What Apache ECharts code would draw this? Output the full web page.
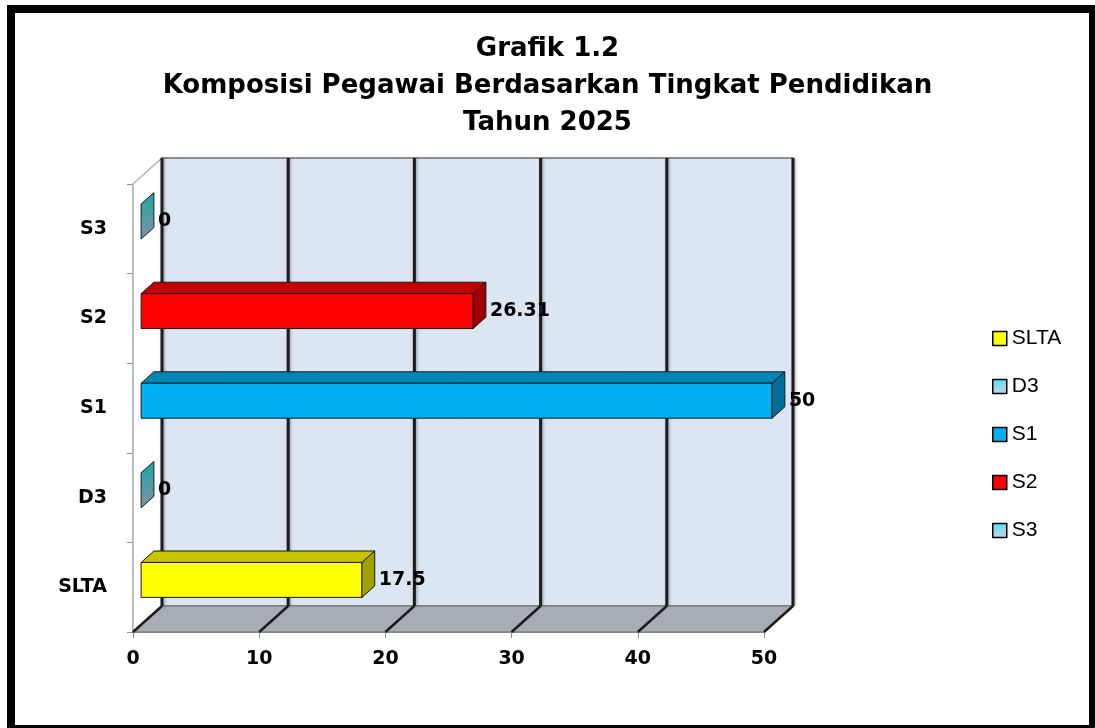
<!DOCTYPE html>
<html>
<head>
<meta charset="utf-8">
<script src="https://cdn.jsdelivr.net/npm/echarts@6/dist/echarts.min.js"></script>
<style>
html, body { margin: 0; padding: 0; background: #fff; }
#canvas { width: 1095px; height: 728px; }
</style>
</head>
<body>
<div id="canvas"></div>
<script>
// data
var categories = ['SLTA', 'D3', 'S1', 'S2', 'S3'];
var values = [17.5, 0, 50, 26.31, 0];
var xTicks = [0, 10, 20, 30, 40, 50];
var titleLines = ['Grafik 1.2', 'Komposisi Pegawai Berdasarkan Tingkat Pendidikan', 'Tahun 2025'];

// face colours: front, top, side
var faces = {
    SLTA: ['#ffff00', '#c6c600', '#a0a000'],
    D3: ['#9ee6f2', '#6fc4d6', null],
    S1: ['#00b0f0', '#0087b8', '#006f99'],
    S2: ['#ff0000', '#c40000', '#a00000'],
    S3: ['#9ee6f2', '#6fc4d6', null]
};
var pale = new echarts.graphic.LinearGradient(0, 0, 0, 1, [
    {offset: 0, color: '#4fe0f7'}, {offset: 1, color: '#cfcdea'}
]);
var zeroSide = new echarts.graphic.LinearGradient(0, 0, 0, 1, [
    {offset: 0, color: '#1aa8a8'}, {offset: 1, color: '#8290a8'}
]);

// depth of the 3d box in pixels
var DX = 29, DY = -26;
var FRONT = 0.28, DEPTH = 0.44;
var font = 'DejaVu Sans';

var myChart = echarts.init(document.getElementById('canvas'));

var renderFrame = function(params, api) {
    var cs = params.coordSys;
    var x0 = cs.x, y0 = cs.y, x1 = cs.x + cs.width, y1 = cs.y + cs.height;
    var kids = [];
    kids.push({type: 'polygon', shape: {points: [[x0 + DX, y0 + DY], [x1 + DX, y0 + DY], [x1 + DX, y1 + DY], [x0 + DX, y1 + DY]]},
        style: {fill: '#dce6f2', stroke: '#6b6b6b', lineWidth: 1.5}});
    kids.push({type: 'polygon', shape: {points: [[x0, y0], [x0 + DX, y0 + DY], [x0 + DX, y1 + DY], [x0, y1]]},
        style: {fill: '#ffffff', stroke: '#b4b4b4', lineWidth: 1.5}});
    kids.push({type: 'polygon', shape: {points: [[x0, y1], [x0 + DX, y1 + DY], [x1 + DX, y1 + DY], [x1, y1]]},
        style: {fill: '#a7adb5', stroke: '#808080', lineWidth: 1.5}});
    for (var i in xTicks) {
        var x = api.coord([xTicks[i], 0])[0];
        kids.push({type: 'line', shape: {x1: x + DX, y1: y0 + DY, x2: x + DX, y2: y1 + DY},
            style: {stroke: '#1c1c1c', lineWidth: 3, shadowBlur: 3, shadowColor: 'rgba(0,0,0,0.35)', shadowOffsetX: 1}});
        kids.push({type: 'line', shape: {x1: x, y1: y1, x2: x + DX, y2: y1 + DY},
            style: {stroke: '#1c1c1c', lineWidth: 2.5}});
    }
    return {type: 'group', children: kids};
};

var makeBar = function(name) {
    return function(params, api) {
        var v = api.value(0), c = api.value(1);
        var base = api.coord([0, c]);
        var end = api.coord([v, c]);
        var band = api.size([0, 1])[1];
        var h = band * 0.39;
        var fx = DX * FRONT, fy = DY * FRONT, bx = DX * DEPTH, by = DY * DEPTH;
        var xl = base[0] + fx, xr = end[0] + fx;
        var yt = base[1] + fy - h / 2, yb = yt + h;
        var col = faces[name];
        var line = {stroke: '#1a1a1a', lineWidth: 1};
        var kids = [];
        if (v > 0) {
            kids.push({type: 'polygon', shape: {points: [[xl, yt], [xl + bx, yt + by], [xr + bx, yt + by], [xr, yt]]},
                style: Object.assign({fill: col[1]}, line)});
            kids.push({type: 'rect', shape: {x: xl, y: yt, width: xr - xl, height: h},
                style: Object.assign({fill: col[0]}, line)});
        }
        kids.push({type: 'polygon', shape: {points: [[xr, yt], [xr + bx, yt + by], [xr + bx, yb + by], [xr, yb]]},
            style: Object.assign({fill: v > 0 ? col[2] : zeroSide}, line)});
        kids.push({type: 'text', style: {text: String(v), x: xr + bx + 4, y: (yt + yb) / 2,
            verticalAlign: 'middle', align: 'left', font: 'bold 19px "' + font + '"', fill: '#000'}});
        return {type: 'group', children: kids};
    };
};

var series = [{
    name: 'frame',
    type: 'custom',
    renderItem: renderFrame,
    data: [[0, 0]],
    silent: true,
    z: 1
}];
var legendData = [];
for (var i in categories) {
    var name = categories[i];
    var fill = faces[name][2] ? faces[name][0] : pale;
    series.push({
        name: name,
        type: 'custom',
        renderItem: makeBar(name),
        data: [[values[i], Number(i)]],
        itemStyle: {color: fill},
        z: 2
    });
    legendData.push({name: name, itemStyle: {color: fill, borderColor: '#000', borderWidth: 1.5}});
}

var option = {
    animation: false,
    title: {
        text: titleLines.join('\n'),
        left: 'center',
        top: 31,
        padding: 0,
        textStyle: {fontFamily: font, fontWeight: 'bold', fontSize: 26, lineHeight: 37, color: '#000'}
    },
    legend: {
        data: legendData,
        orient: 'vertical',
        left: 992,
        top: 328,
        padding: 0,
        itemWidth: 14,
        itemHeight: 14,
        itemGap: 27,
        icon: 'rect',
        textStyle: {fontFamily: 'Liberation Sans', fontSize: 21, color: '#000'}
    },
    grid: {left: 133, top: 184, width: 631, height: 448},
    xAxis: {
        type: 'value',
        min: 0,
        max: 50,
        interval: 10,
        splitLine: {show: false},
        axisLine: {show: true, lineStyle: {color: '#808080', width: 1.5}},
        axisTick: {show: true, length: 6, lineStyle: {color: '#909090'}},
        axisLabel: {margin: 18, color: '#000', fontFamily: font, fontWeight: 'bold', fontSize: 19}
    },
    yAxis: {
        type: 'category',
        data: categories,
        axisLine: {show: true, lineStyle: {color: '#a8a8a8', width: 1.5}},
        axisTick: {show: true, length: 6, lineStyle: {color: '#909090'}},
        axisLabel: {margin: 26, color: '#000', fontFamily: font, fontWeight: 'bold', fontSize: 19}
    },
    graphic: [{
        type: 'rect',
        shape: {x: 11, y: 9, width: 1082, height: 720},
        style: {fill: 'none', stroke: '#000', lineWidth: 8},
        silent: true,
        z: 100
    }],
    series: series
};
myChart.setOption(option);
</script>
</body>
</html>
